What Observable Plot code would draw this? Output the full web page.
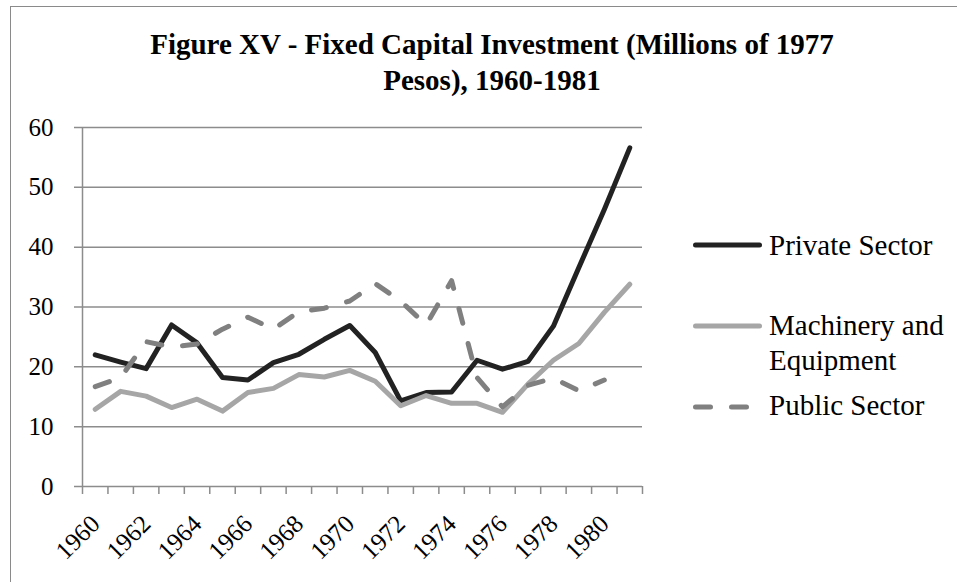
<!DOCTYPE html>
<html>
<head>
<meta charset="utf-8">
<script src="https://cdn.jsdelivr.net/npm/d3@7"></script>
<script src="https://cdn.jsdelivr.net/npm/@observablehq/plot@0.6"></script>
<style>
html, body { margin: 0; padding: 0; background: #fff; overflow: hidden; }
#wrap { position: relative; width: 957px; height: 582px; overflow: hidden; font-family: "Liberation Serif", "Times New Roman", serif; }
#frame { position: absolute; left: 10px; top: 6px; width: 1200px; height: 900px; border: 1.5px solid #8a8a8a; box-sizing: border-box; }
#title { position: absolute; left: 0; top: 26px; width: 984px; text-align: center; font-weight: bold; font-size: 29px; line-height: 36px; color: #000; }
#chart { position: absolute; left: 0; top: 0; }
#legend { position: absolute; left: 0; top: 0; }
</style>
</head>
<body>
<div id="wrap">
  <div id="frame"></div>
  <div id="title">Figure XV - Fixed Capital Investment (Millions of 1977<br>Pesos), 1960-1981</div>
  <div id="chart"></div>
  <svg id="legend" width="957" height="582"></svg>
</div>
<script>
// ---- data ----
const years = [1960, 1961, 1962, 1963, 1964, 1965, 1966, 1967, 1968, 1969, 1970,
               1971, 1972, 1973, 1974, 1975, 1976, 1977, 1978, 1979, 1980, 1981];
const privateSector = [22.0, 20.8, 19.7, 27.0, 24.0, 18.2, 17.8, 20.7, 22.1, 24.6, 26.9,
                       22.4, 14.3, 15.7, 15.8, 21.1, 19.6, 20.9, 26.8, 36.6, 46.3, 56.6];
const machinery = [12.9, 15.9, 15.1, 13.2, 14.6, 12.6, 15.7, 16.4, 18.7, 18.3, 19.4,
                   17.6, 13.5, 15.2, 13.9, 13.9, 12.4, 17.1, 21.1, 23.9, 29.1, 33.8];
const publicSector = [16.7, 18.2, 24.2, 23.3, 23.8, 26.3, 28.3, 26.3, 29.2, 29.8, 31.0,
                      33.9, 31.0, 27.0, 34.4, 18.2, 13.3, 16.9, 18.1, 16.0, 17.8];
const seriesNames = ["Private Sector", "Machinery and Equipment", "Public Sector"];
const legendLines = [["Private Sector"], ["Machinery and", "Equipment"], ["Public Sector"]];
const seriesColors = ["#222222", "#a6a6a6", "#808080"];
const seriesDash = [null, null, "15,21"];
const yTicks = [0, 10, 20, 30, 40, 50, 60];
const xLabelYears = [1960, 1962, 1964, 1966, 1968, 1970, 1972, 1974, 1976, 1978, 1980];

// ---- build tables ----
const seriesValues = [privateSector, machinery, publicSector];
const tables = seriesValues.map((vals, s) =>
  vals.map((v, i) => ({year: years[i], value: v, series: seriesNames[s]})));
const boundaries = years.map(y => y - 0.5).concat([years[years.length - 1] + 0.5]);

const gridColor = "#8c8c8c";
const serif = "'Liberation Serif', 'Times New Roman', serif";

const chart = Plot.plot({
  width: 957,
  height: 582,
  marginLeft: 82,
  marginRight: 315,
  marginTop: 127,
  marginBottom: 96,
  x: {type: "linear", domain: [boundaries[0], boundaries[boundaries.length - 1]], axis: null},
  y: {domain: [0, 60], axis: null},
  style: {fontFamily: serif, background: "transparent", color: "#000", overflow: "visible"},
  marks: [
    Plot.ruleY(yTicks, {y: d => d, stroke: gridColor, strokeWidth: 1.5, insetLeft: -8}),
    Plot.ruleX([boundaries[0]], {x: d => d, y1: 0, y2: 60, stroke: gridColor, strokeWidth: 1.5}),
    Plot.ruleX(boundaries, {x: d => d, y1: 0, y2: 0, insetBottom: -8, stroke: gridColor, strokeWidth: 1.5}),
    Plot.text(yTicks, {y: d => d, text: d => String(d), frameAnchor: "left", dx: -29, textAnchor: "end", lineAnchor: "middle", fontSize: 25, fill: "#000"}),
    Plot.text(xLabelYears, {x: d => d, text: d => String(d), frameAnchor: "bottom", dx: 6, dy: 39, rotate: -45, textAnchor: "end", lineAnchor: "bottom", fontSize: 25, fill: "#000"}),
    ...tables.map((t, s) => Plot.line(t, {
      x: "year", y: "value",
      stroke: seriesColors[s], strokeWidth: 5,
      strokeDasharray: seriesDash[s] || undefined,
      strokeLinecap: "round", strokeLinejoin: "round"
    }))
  ]
});
document.getElementById("chart").appendChild(chart);

// ---- legend ----
const lg = d3.select("#legend");
const lineYs = [245, 326, 407];
const textYs = [[255], [335, 370], [415]];
seriesNames.forEach((name, s) => {
  lg.append("line")
    .attr("x1", 695.5).attr("x2", 759.5)
    .attr("y1", lineYs[s]).attr("y2", lineYs[s])
    .attr("stroke", seriesColors[s]).attr("stroke-width", 5)
    .attr("stroke-linecap", "round")
    .attr("stroke-dasharray", seriesDash[s]);
  legendLines[s].forEach((txt, j) => {
    lg.append("text")
      .attr("x", 769).attr("y", textYs[s][j])
      .style("font-family", serif)
      .attr("font-size", 29)
      .attr("fill", "#000")
      .text(txt);
  });
});
</script>
</body>
</html>
